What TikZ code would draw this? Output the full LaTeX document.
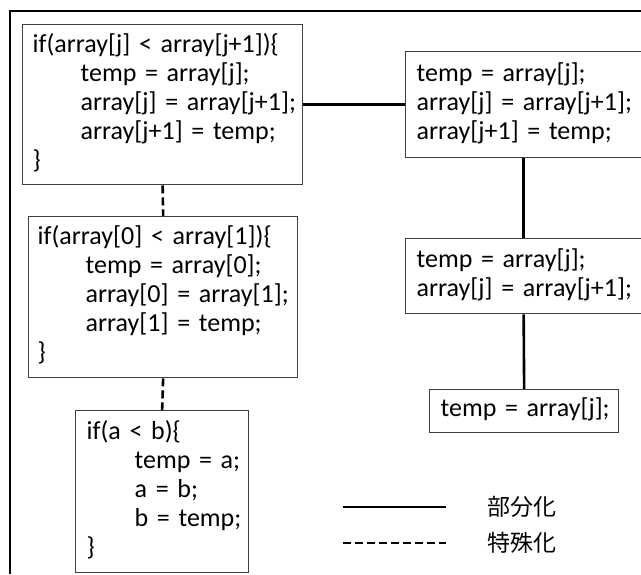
\documentclass[tikz,border=0pt]{standalone}
\usepackage{fontspec}
\setmainfont{Carlito}
\newfontfamily\cjk{Noto Sans CJK JP}
\usetikzlibrary{positioning}

\tikzset{
  codebox/.style={draw=black!75,line width=1.3pt,anchor=north west,align=left,inner xsep=10pt,inner ysep=0pt,font=\fontsize{26}{29}\selectfont},
  part/.style={line width=2.6pt},
  spec/.style={line width=2.6pt,dash pattern=on 8pt off 4pt},
}
\newcommand{\ind}{\hspace*{48pt}}
\newcommand{\code}[1]{\begin{tabular}{@{}l@{}}#1\end{tabular}}

\begin{document}
\begin{tikzpicture}[x=1pt,y=-1pt]
\useasboundingbox (0,0) rectangle (641,574);
% frame
\draw [line width=1.3pt] (10,574) -- (10,11) -- (641,11);
% left column
\node [codebox,minimum width=280pt,minimum height=160pt,text width=260pt] (b1) at (22,24)
  {\code{if(array[j] < array[j+1])\{\\ \ind temp = array[j];\\ \ind array[j] = array[j+1];\\ \ind array[j+1] = temp;\\ \}}};
\node [codebox,minimum width=269pt,minimum height=161pt,text width=251pt,inner xsep=9pt] (b2) at (28,216)
  {\code{if(array[0] < array[1])\{\\ \ind temp = array[0];\\ \ind array[0] = array[1];\\ \ind array[1] = temp;\\ \}}};
\node [codebox,minimum width=173pt,minimum height=162pt,text width=151pt,inner xsep=11pt] (b3) at (75,410)
  {\code{if(a < b)\{\\ \ind temp = a;\\ \ind a = b;\\ \ind b = temp;\\ \}}};
% right column
\node [codebox,minimum width=236pt,minimum height=106pt,text width=214pt,inner xsep=11pt] (r1) at (405,51)
  {\code{temp = array[j];\\ array[j] = array[j+1];\\ array[j+1] = temp;}};
\node [codebox,minimum width=236pt,minimum height=75pt,text width=214pt,inner xsep=11pt] (r2) at (405,238)
  {\code{temp = array[j];\\ array[j] = array[j+1];}};
\node [codebox,minimum width=189pt,minimum height=43pt,text width=167pt,inner xsep=11pt] (r3) at (429,389)
  {\code{temp = array[j];}};
% links
\draw [part] (b1.east) -- (r1.west);
\draw [part] (r1.south) -- (r2.north);
\draw [part] (r2.south) -- (r3.north);
\draw [spec] (b1.south) -- (b2.north);
\draw [spec] (b2.south) -- (b3.north);
% legend
\coordinate (l1a) at (343,507);
\coordinate (l1b) at (446,507);
\coordinate (l2a) at (343,543);
\coordinate (l2b) at (446,543);
\draw [part] (l1a) -- (l1b);
\draw [spec] (l2a) -- (l2b);
\node [anchor=west,font=\cjk\fontsize{23}{26}\selectfont,inner sep=0pt] (t1) at (487,507) {部分化};
\node [anchor=west,font=\cjk\fontsize{23}{26}\selectfont,inner sep=0pt] (t2) at (487,543) {特殊化};
\end{tikzpicture}
\end{document}
